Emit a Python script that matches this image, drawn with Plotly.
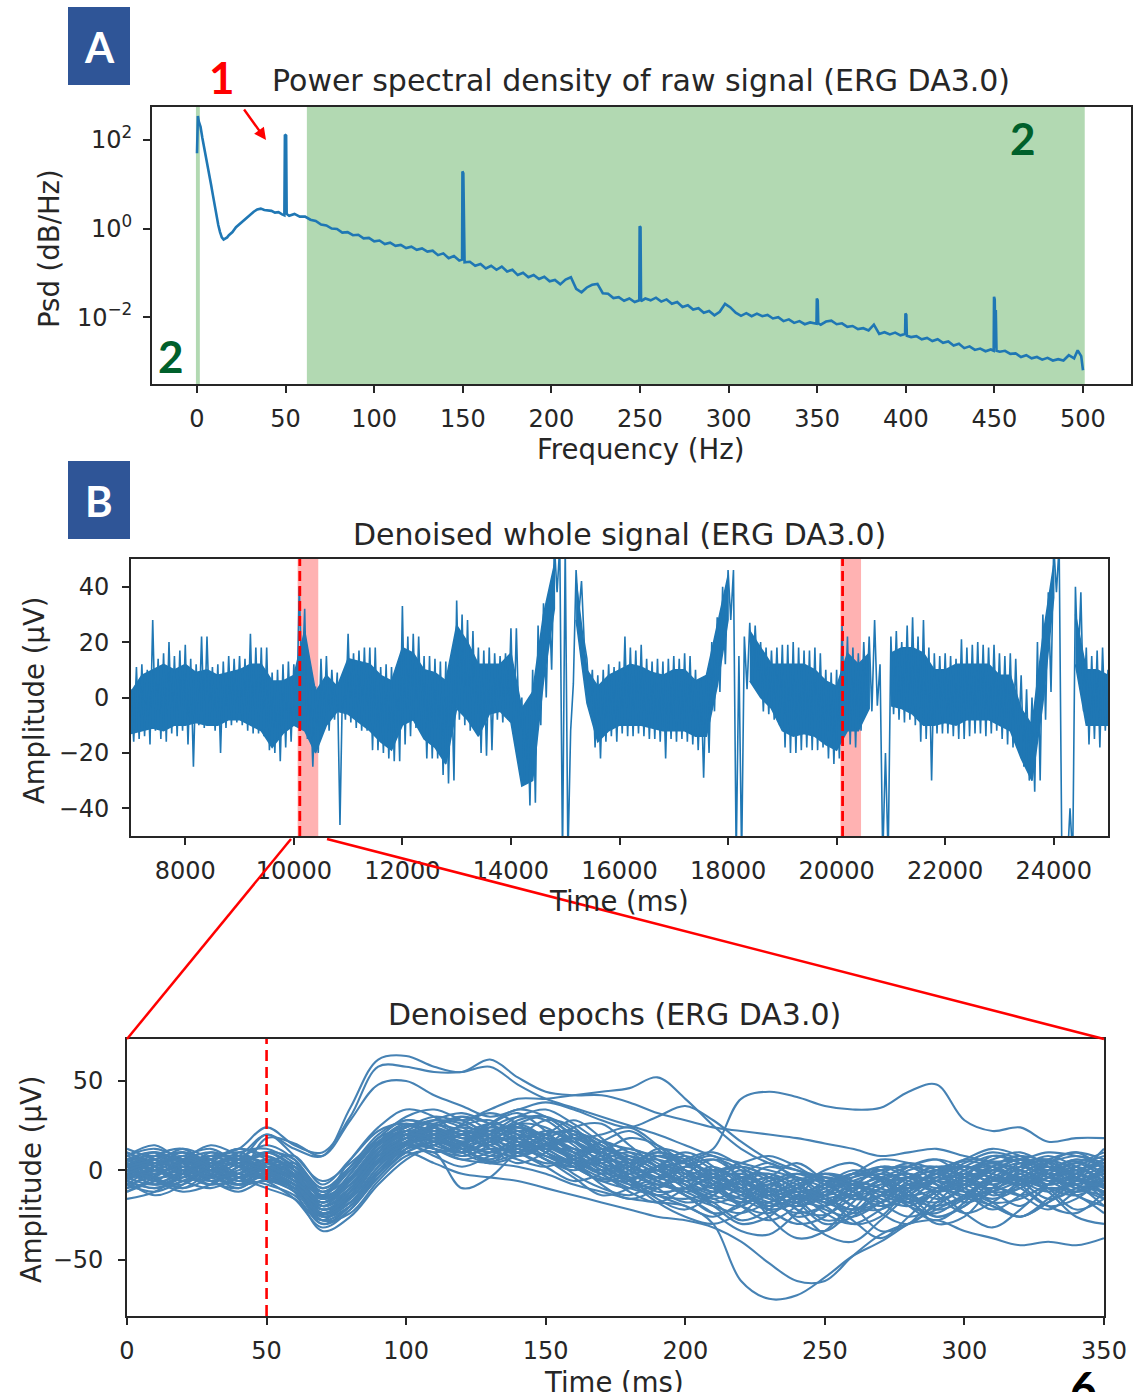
import plotly.graph_objects as go

W, H = 1148, 1392


def px(x):
    return x / W


def py(y):
    return 1 - y / H


# ---------------- Panel A: PSD data ----------------
psd_freq = [0, 0.5, 1, 2, 3, 4, 5, 6, 7, 8, 9, 10, 11, 12, 13, 14, 15, 16, 17, 18, 19, 20,
            22, 24, 26, 28, 30, 32, 34, 36, 38, 40, 42, 44, 46, 48, 49.3, 49.6, 50.3, 50.6,
            52, 55, 58, 61, 64, 67, 70, 73, 76, 79, 82, 85, 88, 91, 94, 97, 100, 103, 106, 109,
            112, 115, 118, 121, 124, 127, 130, 133, 136, 139, 142, 145, 148, 149.6, 149.8, 150.3,
            150.6, 151, 154, 157, 160, 163, 166, 169, 172, 175, 178, 181, 184, 187, 190, 193, 196,
            199, 202, 205, 208, 211, 214, 217, 220, 223, 226, 229, 232, 235, 238, 241, 244, 247,
            249.6, 249.8, 250.3, 250.6, 253, 256, 259, 262, 265, 268, 271, 274, 277, 280, 283, 286,
            289, 292, 295, 298, 301, 304, 307, 310, 313, 316, 319, 322, 325, 328, 331, 334, 337,
            340, 343, 346, 349.6, 349.8, 350.3, 350.6, 352, 355, 358, 361, 364, 367, 370, 373, 376,
            379, 382, 385, 388, 391, 394, 397, 399.6, 399.8, 400.3, 400.6, 403, 406, 409, 412, 415,
            418, 421, 424, 427, 430, 433, 436, 439, 442, 445, 448, 449.6, 449.8, 450.2, 450.5, 450.8,
            451.2, 453, 456, 459, 462, 465, 468, 471, 474, 477, 480, 483, 486, 489, 492, 495, 497,
            499, 500]
psd_log10 = [1.70, 2.54, 2.42, 2.30, 2.05, 1.85, 1.60, 1.38, 1.18, 0.98, 0.75, 0.50, 0.28, 0.08,
             -0.08, -0.20, -0.25, -0.23, -0.20, -0.15, -0.12, -0.08, 0.03, 0.10, 0.19, 0.25, 0.32,
             0.38, 0.43, 0.45, 0.42, 0.41, 0.40, 0.36, 0.37, 0.32, 0.30, 2.12, 2.10, 0.33,
             0.29, 0.33, 0.27, 0.27, 0.20, 0.17, 0.09, 0.07, 0.00, -0.01, -0.09, -0.08, -0.15, -0.14,
             -0.22, -0.21, -0.29, -0.27, -0.35, -0.32, -0.39, -0.37, -0.44, -0.41, -0.48, -0.45,
             -0.52, -0.50, -0.60, -0.56, -0.67, -0.62, -0.72, -0.70, 1.29, 1.25,
             -0.72, -0.76, -0.75, -0.84, -0.80, -0.90, -0.84, -0.93, -0.86, -0.97, -0.93, -1.05,
             -1.00, -1.10, -1.05, -1.14, -1.09, -1.19, -1.16, -1.26, -1.15, -1.10, -1.36, -1.44,
             -1.33, -1.27, -1.25, -1.46, -1.47, -1.57, -1.55, -1.63, -1.58, -1.66,
             -1.62, 0.05, 0.03, -1.64, -1.58, -1.62, -1.56, -1.65, -1.60, -1.70, -1.66, -1.77,
             -1.73, -1.83, -1.80, -1.90, -1.86, -1.96, -1.88, -1.70, -1.78, -1.90, -1.97, -1.91,
             -1.98, -1.92, -1.98, -1.95, -2.03, -2.00, -2.09, -2.05, -2.13, -2.09, -2.16, -2.12,
             -2.15, -1.58, -1.62, -2.14, -2.17, -2.10, -2.08, -2.16, -2.14, -2.22, -2.20, -2.27,
             -2.25, -2.30, -2.17, -2.38, -2.34, -2.39, -2.35, -2.41, -2.38, -1.92, -1.95, -2.42,
             -2.45, -2.43, -2.50, -2.47, -2.54, -2.50, -2.58, -2.55, -2.64, -2.60, -2.70, -2.66,
             -2.74, -2.71, -2.77, -2.73, -2.76, -1.54, -1.60, -2.70, -1.84, -2.76, -2.78, -2.76,
             -2.83, -2.82, -2.90, -2.86, -2.93, -2.90, -2.96, -2.92, -2.98, -2.95, -2.98, -2.86,
             -2.93, -2.75, -2.88, -3.20]
psd_values = [10 ** v for v in psd_log10]

psd_xticks = [0, 50, 100, 150, 200, 250, 300, 350, 400, 450, 500]
psd_yticks = [1e-2, 1e0, 1e2]
psd_yticktext = ["10<sup>\u22122</sup>", "10<sup>0</sup>", "10<sup>2</sup>"]
hp_band = [-0.6, 1.6]
lp_band = [62, 501]

# ---------------- Panel B1: whole signal ----------------
# extremes (upper / lower) every 100 ms
sig_times = list(range(7000, 25001, 100))
sig_upper = [
    3, 11, 12, 10, 28, 14, 16, 20, 15, 17,
    19, 14, 12, 22, 22, 11, 12, 13, 15, 14,
    15, 14, 23, 18, 18, 18, 9, 10, 12, 13,
    12, 40, 32, 5, 4, 14, 15, 10, 9, 8,
    23, 16, 17, 18, 18, 18, 11, 12, 11, 10,
    33, 22, 23, 22, 15, 15, 14, 13, 13, 12,
    35, 30, 28, 24, 18, 17, 18, 16, 15, 16,
    25, 25, 0, -2, 10, 26, 34, 38, 55, 55,
    55, -12, 46, 42, 14, 10, 8, 10, 12, 11,
    13, 22, 18, 17, 19, 14, 13, 14, 13, 14,
    15, 14, 16, 15, 10, 7, 8, 20, 29, 40,
    46, 46, 15, 22, 27, 26, 20, 18, 17, 18,
    19, 19, 20, 18, 17, 17, 18, 16, 10, 9,
    10, 26, 22, 18, 16, 20, 22, 28, 12, -20,
    22, 24, 20, 26, 29, 22, 28, 18, 16, 15,
    16, 15, 14, 21, 18, 19, 20, 19, 18, 19,
    16, 15, 16, 14, 8, 3, 0, 20, 30, 38,
    55, 55, -60, -40, 40, 38, 18, 15, 17, 18,
    10]
sig_lower = [
    -16, -15, -14, -17, -12, -15, -16, -13, -14, -12,
    -17, -25, -10, -11, -9, -12, -20, -11, -10, -9,
    -10, -12, -13, -13, -14, -19, -20, -23, -18, -16,
    -10, 5, -15, -25, -20, -12, -12, -8, -46, -8,
    -9, -11, -12, -12, -19, -19, -20, -22, -23, -23,
    -17, -14, -11, -12, -22, -22, -22, -28, -31, -30,
    -8, -10, -12, -12, -20, -21, -19, -8, -9, -8,
    -13, -12, -30, -39, -38, -10, 0, 10, 38, -58,
    -58, 5, 30, 20, -2, -18, -22, -16, -14, -16,
    -13, -14, -14, -13, -14, -15, -15, -16, -22, -15,
    -16, -15, -16, -17, -19, -29, -20, -5, 2, 12,
    28, -58, -58, 3, 5, 4, -5, -6, -8, -10,
    -18, -20, -20, -19, -18, -19, -19, -18, -22, -24,
    -22, -8, -17, -18, -12, -3, -5, -3, -58, -58,
    -6, -8, -9, -8, -10, -16, -15, -30, -13, -13,
    -13, -14, -15, -15, -14, -13, -13, -14, -13, -12,
    -15, -17, -18, -17, -25, -30, -34, -30, -8, 2,
    38, -58, -60, -58, 10, -5, -17, -15, -18, -12,
    -15]
sig_half_step = 50
# dense core of the band every 200 ms
core_times = list(range(7000, 25001, 200))
core_upper = [
    2, 8, 10, 12, 10, 12, 9, 10, 8, 9,
    10, 12, 12, 6, 6, 8, 24, 2, 8, 4,
    14, 13, 12, 8, 6, 18, 16, 10, 9, 6,
    26, 20, 12, 12, 12, 16, -4, 2, 30, 48,
    0, 42, 10, 4, 8, 10, 12, 11, 9, 8,
    10, 10, 6, 8, 26, 44, 0, 24, 18, 12,
    12, 12, 12, 10, 6, 4, 16, 12, 16, 0,
    16, 18, 18, 16, 10, 10, 12, 12, 12, 12,
    8, 8, -4, -10, 22, 48, 0, 30, 10, 10,
    8]
core_lower = [
    -13, -12, -11, -12, -10, -10, -9, -10, -10, -8,
    -8, -10, -12, -18, -13, -10, -12, -20, -10, -5,
    -6, -9, -12, -16, -19, -10, -8, -15, -18, -24,
    -4, -8, -14, -6, -5, -9, -32, -30, 6, 32,
    0, 28, -2, -16, -12, -10, -10, -10, -11, -12,
    -12, -12, -14, -14, 4, 28, 0, 6, 0, -4,
    -12, -14, -13, -14, -17, -19, -12, -12, -4, 0,
    -3, -4, -6, -10, -10, -9, -10, -8, -8, -8,
    -10, -12, -22, -30, -2, 36, 0, 12, -10, -10,
    -10]
# times where the trace swings across the whole axis (no dense core there)
core_gap_times = [15000, 18200, 20800, 24200]
epoch_spans = [[10070, 10450], [20070, 20450]]
stim_times = [10110, 20110]
sig_xticks = [8000, 10000, 12000, 14000, 16000, 18000, 20000, 22000, 24000]
sig_xticktext = ["8000", "10000", "12000", "14000", "16000", "18000", "20000", "22000", "24000"]
sig_yticks = [-40, -20, 0, 20, 40]

# ---------------- Panel B2: epochs (sampled every 10 ms) ----------------
epoch_times = list(range(0, 351, 10))
epochs = [
    [5, 8, 2, -3, 4, 10, 2, -15, -5, 15, 25, 22, 15, 10, 18, 20, 10, 0, -5, 2, 8, 0, -12, -20, -15, -8, -12, -18, -10, -2, 2, -5, -8, 0, 5, -2],
    [-8, -3, 5, 6, -2, -5, -10, -25, -15, 8, 18, 25, 22, 12, 8, 15, 18, 10, 0, -8, -10, -4, -2, -10, -22, -25, -15, -5, -2, -8, -15, -10, 2, 5, -5, -12],
    [3, -5, -8, 2, 8, 4, -3, -20, -12, 5, 15, 18, 25, 28, 20, 10, 2, -5, 0, 8, 4, -8, -18, -12, -5, -10, -20, -22, -12, 0, 5, 2, -5, -10, -8, 0],
    [10, 4, -2, -6, -2, 6, 0, -12, 2, 20, 28, 24, 12, 5, 10, 18, 12, 2, -6, -10, -2, 6, 0, -12, -18, -10, -2, -4, -14, -18, -10, 0, 6, 2, -4, -8],
    [-5, 2, 8, 4, -4, -8, -14, -30, -20, 0, 12, 16, 20, 22, 24, 16, 6, 4, 8, 2, -8, -16, -20, -10, -2, -6, -16, -14, -4, 2, -4, -12, -10, 0, 6, 2],
    [0, -8, -4, 6, 10, 2, -6, -22, -12, 10, 22, 16, 8, 14, 22, 20, 12, 10, 4, -6, -12, -8, 0, -6, -16, -20, -12, -2, 4, 0, -8, -6, 2, 8, 2, -6],
    [6, 10, 4, -4, -8, -2, 2, -16, -2, 18, 24, 28, 26, 18, 12, 8, 4, 8, 12, 6, -4, -10, -16, -22, -18, -8, 0, -4, -10, -6, 2, 8, 4, -4, -10, -14],
    [-3, 0, 6, 10, 4, -4, -12, -26, -18, 2, 16, 22, 18, 20, 26, 24, 14, 2, -4, 0, 4, -2, -12, -18, -24, -20, -10, -12, -18, -12, -2, 4, 0, -6, -2, 4],
    [2, -4, -10, -4, 4, 8, 0, -14, -6, 14, 20, 14, 10, 16, 18, 10, 4, 0, 4, 10, 6, -4, -8, -4, -10, -18, -22, -14, -4, 2, 0, -8, -14, -8, 2, 8],
    [-10, -6, 2, 0, -6, -2, -8, -20, -10, 10, 18, 20, 24, 20, 14, 6, 0, 6, 10, 4, -6, -12, -6, -2, -8, -14, -8, 0, 2, -6, -12, -6, 4, 6, 0, -10],
    [8, 2, -4, 2, 10, 12, 4, -10, 0, 16, 22, 18, 14, 8, 12, 20, 22, 14, 4, -4, -8, -14, -18, -14, -6, -2, -8, -16, -20, -12, -4, 0, -4, -10, -14, -6],
    [-2, 6, 10, 2, -6, -4, -10, -24, -14, 4, 14, 20, 16, 10, 14, 12, 2, -6, -10, -6, 2, 6, -4, -16, -20, -14, -6, -2, -6, -12, -8, 2, 8, 4, -6, -2],
    [4, 0, -6, -10, -4, 2, -2, -18, -6, 12, 24, 26, 20, 24, 20, 14, 10, 4, -2, 2, 0, -6, -14, -18, -10, -4, -8, -12, -8, -2, 6, 4, -2, -8, -4, 2],
    [-6, -10, -4, 4, 2, -6, -16, -32, -22, -4, 10, 16, 12, 18, 16, 8, 2, 6, 2, -6, -14, -20, -24, -18, -12, -16, -22, -18, -8, -4, -10, -16, -10, -2, 4, -4],
    [12, 6, 0, 4, 6, 0, -4, -14, 0, 16, 20, 12, 8, 12, 10, 4, 6, 12, 8, 0, -6, -2, 2, -4, -12, -8, -2, -6, -14, -10, 0, 6, 10, 2, -8, -12],
    [0, 4, 0, -4, 0, 6, 0, -20, -10, 10, 18, 24, 30, 26, 18, 12, 12, 6, -2, -8, -4, 2, -6, -14, -10, -4, -12, -20, -16, -6, -2, -6, -4, 4, 8, 4],
    [-4, -2, 4, 8, 2, 0, -8, -22, -16, 2, 14, 12, 10, 16, 26, 30, 22, 10, 0, -6, -12, -18, -14, -8, -14, -22, -26, -18, -6, 0, -6, -10, -4, 2, -2, -8],
    [6, 2, -2, 0, -8, -6, -10, -24, -14, 6, 16, 22, 20, 12, 6, 2, 8, 16, 10, 2, -2, -8, -12, -6, -2, -8, -14, -10, 0, 2, -4, -8, -2, 6, 10, 6],
    [-12, -4, 4, -2, -8, 4, 8, -8, 6, 22, 26, 18, 12, 6, 14, 22, 16, 8, 4, 6, 0, -10, -20, -24, -16, -10, -6, -10, -16, -20, -14, -4, 2, -4, -10, -16],
    [2, 8, 6, 0, -4, 0, -6, -16, -8, 8, 14, 10, 14, 22, 24, 18, 10, 0, -8, -4, 6, 10, 2, -10, -16, -12, -4, 2, -4, -10, -6, 0, -6, -12, -6, 0],
    [-2, -6, -12, -8, 2, 10, 6, -12, -4, 12, 20, 24, 18, 14, 20, 16, 6, -2, 2, 10, 4, -6, -10, -16, -20, -16, -14, -20, -14, -4, 2, -2, -8, -4, 2, -6],
    [4, 0, 2, 8, 6, -2, -10, -28, -20, -2, 12, 14, 20, 26, 22, 12, 4, -4, -6, 0, -8, -16, -10, -4, -10, -18, -14, -6, -2, -8, -14, -12, -6, 0, -4, -10],
    [8, 12, 6, -2, -2, 4, -2, -18, -4, 14, 22, 20, 10, 4, 8, 14, 18, 12, 6, -2, -6, 0, -4, -12, -8, -2, -6, -14, -18, -10, 0, 4, 0, -6, -12, -8],
    [-8, -12, -6, 0, 4, 2, -4, -20, -12, 6, 16, 18, 22, 16, 10, 14, 16, 8, -4, -12, -10, -4, -12, -22, -18, -10, -8, -12, -10, -4, 4, 10, 6, -2, 0, 6],
    [-16, -12, -2, 6, 8, 0, -8, -28, -24, -6, 8, 10, -10, -4, 10, 14, 8, -2, -10, -14, -16, -12, -4, -2, -12, -24, -30, -22, -12, -6, -10, -18, -16, -8, -4, -14],
    [10, 4, 8, 12, 6, 20, 8, -6, 4, 18, 30, 34, 28, 22, 30, 34, 26, 16, 12, 8, 4, 0, 4, 8, 2, -6, -2, 6, 4, -2, 6, 12, 8, 0, 4, 10],
    [6, -4, -10, 0, 8, 2, -12, -34, -26, -8, 6, 14, 20, 12, 4, 10, 20, 16, 2, -10, -18, -14, -4, -12, -28, -34, -22, -8, -14, -26, -20, -6, 0, -10, -22, -16],
    [-4, 8, 12, 2, -6, 4, -2, -14, 6, 24, 34, 30, 20, 26, 32, 22, 10, 16, 22, 12, -2, -10, -2, 4, -6, -18, -10, 2, -2, -12, -4, 8, 4, -8, -2, 12],
    [2, -8, -2, 10, 4, -4, -8, -26, -20, -4, 12, 24, 30, 22, 14, 20, 28, 18, 4, -4, 2, -6, -20, -28, -20, -6, -10, -24, -30, -18, -6, -12, -20, -10, -14, -24],
    [-10, 0, 8, -2, -10, 0, 4, -10, 2, 16, 22, 16, 26, 32, 26, 14, 6, -2, -12, -18, -10, 0, -8, -22, -30, -26, -12, -4, -12, -22, -16, -2, 6, -2, -12, -4],
    [8, 14, 4, -6, 2, 10, 0, -22, -14, 6, 18, 22, 14, 4, 18, 28, 24, 8, -6, -14, -20, -26, -18, -8, -16, -28, -24, -10, -4, -14, -24, -18, -6, 4, -4, -16],
    [-6, -14, -8, 4, 12, 6, -4, -24, -18, 0, 16, 26, 28, 18, 8, 14, 24, 26, 14, 2, -6, -2, -10, -20, -14, -2, -6, -18, -26, -20, -8, 2, -6, -16, -10, 2],
    [0, 6, -2, -8, 2, -2, -10, -30, -22, -2, 14, 20, 16, 24, 30, 28, 16, 4, -8, -14, -10, -20, -30, -26, -14, -20, -30, -26, -10, -2, -12, -22, -14, -2, -8, -20],
    [4, -2, 6, 14, 8, -2, -8, -18, -8, 10, 20, 16, 10, 16, 24, 18, 4, -6, -2, 8, 4, -8, -16, -8, -4, -14, -22, -14, -4, -8, -18, -12, 0, 6, -4, -12],
    [-12, -6, 0, -6, -12, -4, 2, -16, -8, 12, 22, 28, 24, 14, 10, 18, 22, 12, -4, -16, -22, -14, -6, -14, -26, -20, -8, -10, -20, -24, -14, -4, -10, -20, -16, -4],
    [10, 2, -6, -2, 6, 14, 6, -14, -6, 14, 26, 20, 10, 18, 28, 30, 18, 4, 2, 12, 8, -4, -12, -4, 4, -6, -16, -10, 2, 6, -4, -14, -8, 4, 10, 0],
    [-2, 4, 12, 6, -4, -10, -16, -28, -12, 8, 18, 12, 6, 10, 16, 10, -2, -10, -14, -8, -14, -24, -20, -10, -18, -30, -26, -14, -18, -26, -20, -10, -14, -22, -12, -6],
    [6, 10, 0, -8, -4, 4, 2, -12, 0, 18, 28, 24, 18, 22, 16, 6, 2, 10, 18, 14, 4, -4, 2, -4, -16, -14, -2, 0, -8, -16, -10, 2, 8, -2, -8, 2],
    [4, -6, -2, 8, 2, -4, -10, -22, -12, 6, 18, 22, 16, 20, 26, 18, 6, -8, -16, -10, 2, 8, -6, -26, -38, -34, -18, -6, -16, -30, -26, -10, -2, -12, -26, -30],
    [-8, 2, 10, 4, -4, 2, -4, -18, -2, 16, 26, 20, 14, 26, 34, 30, 20, 14, 6, -2, -14, -24, -34, -36, -24, -12, -20, -34, -30, -14, -2, 2, -8, -20, -24, -12],
    [2, 10, 4, -6, -10, -2, -8, -26, -16, 4, 14, 8, 2, 8, 14, 6, -4, -14, -10, 2, 10, 2, -12, -20, -10, 0, 4, -6, -20, -28, -18, -2, 6, -2, -14, -20],
    [-4, -8, 0, 6, 12, 8, -2, -20, -10, 8, 20, 28, 32, 26, 16, 12, 18, 8, -6, -18, -26, -30, -24, -14, -22, -36, -40, -28, -14, -6, -12, -20, -26, -18, -6, -2],
    [6, 0, -6, -2, 6, 4, -6, -24, -18, -2, 14, 18, 12, 6, 14, 22, 18, 20, 24, 14, 0, -12, -6, 2, -4, -16, -24, -18, -8, -12, -24, -32, -22, -8, 2, -10],
    [-6, 2, 6, 0, -8, -6, -12, -28, -20, -2, 10, 16, 22, 18, 10, 2, -6, -2, 6, 0, -10, -18, -28, -22, -10, -16, -28, -38, -26, -12, -8, -18, -26, -16, -4, 6],
    [2, 6, 10, 4, 8, 20, 12, 8, 35, 62, 64, 58, 55, 62, 52, 44, 42, 42, 38, 32, 28, 24, 22, 20, 18, 15, 12, 8, 10, 12, 8, 5, 6, 10, 8, 4],
    [0, -2, 4, 8, 12, 24, 14, 10, 30, 58, 58, 55, 55, 58, 48, 40, 35, 30, 25, 20, 14, 8, 4, 0, -4, -6, -4, 0, 2, -2, -4, 0, 4, 2, -2, -6],
    [-4, 2, 6, 2, -2, 18, 15, 8, 28, 48, 50, 42, 36, 30, 34, 38, 34, 28, 24, 30, 36, 28, 16, 6, 0, -6, -10, -8, -4, 0, 2, -4, -8, -4, 0, 4],
    [0, -4, -2, 4, 6, 2, -6, -16, -4, 14, 24, 30, 28, 34, 40, 40, 42, 44, 46, 52, 40, 25, 12, 4, 0, -4, -8, -4, 2, 6, 2, -2, -6, 0, 6, 2],
    [-2, 4, 8, 2, -4, -2, -8, -20, -6, 10, 20, 18, 14, 18, 22, 16, 8, 2, -2, 2, 5, 12, 40, 44, 41, 36, 34, 35, 44, 48, 28, 22, 24, 16, 18, 18],
    [0, 4, 2, -4, -2, 2, -6, -18, -10, 8, 16, 12, 6, 4, 2, -2, -8, -12, -16, -18, -20, -30, -62, -72, -70, -60, -48, -40, -30, -22, -16, -20, -26, -18, -10, -8],
    [-6, -10, -6, 2, 4, 0, -8, -24, -14, 4, 10, 4, -2, -4, -6, -10, -14, -18, -22, -26, -28, -32, -40, -52, -62, -62, -48, -36, -30, -28, -34, -38, -42, -40, -42, -38],
]
epoch_stim = 50
epoch_xticks = [0, 50, 100, 150, 200, 250, 300, 350]
epoch_yticks = [-50, 0, 50]

# ---------------- Figure ----------------
fig = go.Figure()

fig.add_trace(go.Scatter(x=psd_freq, y=psd_values, mode="lines",
                         line=dict(color="#1f77b4", width=2.6),
                         xaxis="x", yaxis="y", showlegend=False, hoverinfo="skip"))

# dense core of the signal band (polygons split where the trace swings)
band_x, band_y = [], []
run = []
for t, u, l in list(zip(core_times, core_upper, core_lower)) + [(None, None, None)]:
    if t is None or t in core_gap_times:
        if len(run) > 1:
            band_x += [r[0] for r in run] + [r[0] for r in run[::-1]] + [None]
            band_y += [r[1] for r in run] + [r[2] for r in run[::-1]] + [None]
        run = []
    else:
        run.append((t, u, l))
fig.add_trace(go.Scatter(x=band_x, y=band_y, mode="lines", fill="toself",
                         fillcolor="#1f77b4", line=dict(color="#1f77b4", width=1.5),
                         xaxis="x2", yaxis="y2", showlegend=False, hoverinfo="skip"))

sig_x, sig_y = [], []
for t, u, l in zip(sig_times, sig_upper, sig_lower):
    sig_x += [t, t + sig_half_step]
    sig_y += [u, l]
fig.add_trace(go.Scatter(x=sig_x, y=sig_y, mode="lines",
                         line=dict(color="#1f77b4", width=1.6),
                         xaxis="x2", yaxis="y2", showlegend=False, hoverinfo="skip"))

for ep in epochs:
    fig.add_trace(go.Scatter(x=epoch_times, y=ep, mode="lines",
                             line=dict(color="#4682b4", width=2.1, shape="spline", smoothing=1.0),
                             xaxis="x3", yaxis="y3", showlegend=False, hoverinfo="skip"))

tickfont = dict(family="DejaVu Sans", size=24, color="#262626")
axis_common = dict(showline=True, mirror=True, linecolor="#262626", linewidth=1.8,
                   ticks="outside", ticklen=7, tickwidth=1.6, tickcolor="#262626",
                   showgrid=False, zeroline=False, tickfont=tickfont, automargin=False)

fig.update_layout(
    width=W, height=H, autosize=False,
    margin=dict(l=0, r=0, t=0, b=0, pad=0, autoexpand=False),
    paper_bgcolor="white", plot_bgcolor="white", showlegend=False,
    xaxis=dict(domain=[px(152), px(1131)], anchor="y", range=[-25.4, 527.1],
               tickmode="array", tickvals=psd_xticks, ticklabelstandoff=5, **axis_common),
    yaxis=dict(domain=[py(384), py(107)], anchor="x", type="log", range=[-3.51, 2.745],
               tickmode="array", tickvals=psd_yticks, ticktext=psd_yticktext,
               ticklabelstandoff=6, **axis_common),
    xaxis2=dict(domain=[px(131), px(1108)], anchor="y2", range=[7000, 25000],
                tickmode="array", tickvals=sig_xticks, ticktext=sig_xticktext,
                ticklabelstandoff=5, **axis_common),
    yaxis2=dict(domain=[py(836), py(559)], anchor="x2", range=[-50, 50],
                tickmode="array", tickvals=sig_yticks, ticklabelstandoff=8, **axis_common),
    xaxis3=dict(domain=[px(127), px(1104)], anchor="y3", range=[0, 350],
                tickmode="array", tickvals=epoch_xticks, ticklabelstandoff=5, **axis_common),
    yaxis3=dict(domain=[py(1316), py(1039)], anchor="x3", range=[-81.6, 73.5],
                tickmode="array", tickvals=epoch_yticks, ticklabelstandoff=10, **axis_common),
)

shapes = []
for band in (hp_band, lp_band):
    shapes.append(dict(type="rect", xref="x", yref="y domain", x0=band[0], x1=band[1], y0=0, y1=1,
                       fillcolor="rgba(0,128,0,0.3)", line=dict(width=0), layer="below"))
for span in epoch_spans:
    shapes.append(dict(type="rect", xref="x2", yref="y2 domain", x0=span[0], x1=span[1], y0=0, y1=1,
                       fillcolor="rgba(255,0,0,0.3)", line=dict(width=0), layer="below"))
for st in stim_times:
    shapes.append(dict(type="line", xref="x2", yref="y2 domain", x0=st, x1=st, y0=0, y1=1,
                       line=dict(color="red", width=2.8, dash="10px,5px"), layer="above"))
shapes.append(dict(type="line", xref="x3", yref="y3 domain", x0=epoch_stim, x1=epoch_stim, y0=0, y1=1,
                   line=dict(color="red", width=2.6, dash="11px,6px"), layer="above"))
shapes.append(dict(type="line", xref="paper", yref="paper", x0=px(291), y0=py(839), x1=px(127), y1=py(1039),
                   line=dict(color="red", width=2.5), layer="above"))
shapes.append(dict(type="line", xref="paper", yref="paper", x0=px(327), y0=py(839), x1=px(1104), y1=py(1039),
                   line=dict(color="red", width=2.5), layer="above"))
for (y0, y1) in ((7, 85), (461, 539)):
    shapes.append(dict(type="rect", xref="paper", yref="paper", x0=px(68), x1=px(130), y0=py(y1), y1=py(y0),
                       fillcolor="#2f5597", line=dict(width=0), layer="above"))
fig.update_layout(shapes=shapes)

txt = dict(family="DejaVu Sans", color="#262626")
ann = []


def add_text(text, x, y, size, angle=0, font=None, xanchor="center", yanchor="middle"):
    f = dict(txt) if font is None else dict(font)
    f["size"] = size
    ann.append(dict(text=text, x=px(x), y=py(y), xref="paper", yref="paper", showarrow=False,
                    xanchor=xanchor, yanchor=yanchor, textangle=angle, font=f, borderpad=0))


add_text("Power spectral density of raw signal (ERG DA3.0)", 641, 80, 30)
add_text("Frequency (Hz)", 640, 449, 27.5)
add_text("Psd (dB/Hz)", 49, 249, 27.5, angle=-90)
add_text("Denoised whole signal (ERG DA3.0)", 619, 534, 30)
add_text("Time (ms)", 619, 901, 27.5)
add_text("Amplitude (µV)", 34, 701, 27.5, angle=-90)
add_text("Denoised epochs (ERG DA3.0)", 614, 1014, 30)
add_text("Time (ms)", 614, 1382, 27.5)
add_text("Amplitude (µV)", 31, 1180, 27.5, angle=-90)

bold_white = dict(family="Lato", color="white", weight="bold")
add_text("A", 99, 47, 42, font=bold_white)
add_text("B", 99, 501, 42, font=bold_white)
add_text("1", 222, 77, 44, font=dict(family="Lato", color="#ff0000", weight="bold"))
add_text("2", 171, 356, 44, font=dict(family="Lato", color="#00602b", weight="bold"))
add_text("2", 1023, 138, 44, font=dict(family="Lato", color="#00602b", weight="bold"))
add_text("6", 1083, 1359, 46, font=dict(family="Lato", color="black", weight="bold"), yanchor="top")

ann.append(dict(x=px(266), y=py(140), xref="paper", yref="paper", text="", showarrow=True,
                ax=-23, ay=-32, arrowhead=2, arrowsize=1, arrowwidth=2.4, arrowcolor="#ff0000"))

fig.update_layout(annotations=ann)

fig.write_html("out.html")
